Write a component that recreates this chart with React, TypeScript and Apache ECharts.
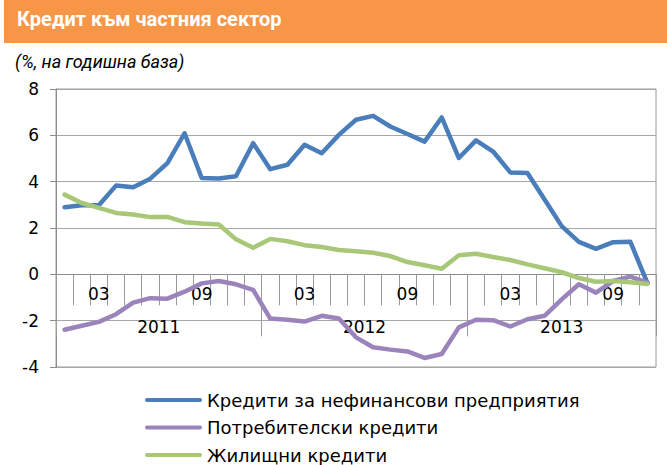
import React, { useEffect, useRef } from "react";
import * as echarts from "echarts";

const categories = [
  "2011-01", "2011-02", "2011-03", "2011-04", "2011-05", "2011-06", "2011-07", "2011-08", "2011-09", "2011-10", "2011-11", "2011-12",
  "2012-01", "2012-02", "2012-03", "2012-04", "2012-05", "2012-06", "2012-07", "2012-08", "2012-09", "2012-10", "2012-11", "2012-12",
  "2013-01", "2013-02", "2013-03", "2013-04", "2013-05", "2013-06", "2013-07", "2013-08", "2013-09", "2013-10", "2013-11",
];
const monthTickLabels = ["03", "09"];
const yearLabels = ["2011", "2012", "2013"];

const seriesNames = [
  "Кредити за нефинансови предприятия",
  "Потребителски кредити",
  "Жилищни кредити",
];

const corporate = [2.9, 2.98, 2.98, 3.83, 3.76, 4.13, 4.8, 6.09, 4.16, 4.14, 4.23, 5.66, 4.54, 4.73, 5.59, 5.23, 6.02, 6.67, 6.84, 6.38, 6.06, 5.73, 6.77, 5.02, 5.78, 5.3, 4.4, 4.37, 3.23, 2.08, 1.4, 1.1, 1.39, 1.41, -0.38];
const consumer = [-2.39, -2.22, -2.05, -1.72, -1.22, -1.03, -1.05, -0.75, -0.39, -0.29, -0.43, -0.67, -1.91, -1.96, -2.04, -1.79, -1.91, -2.72, -3.15, -3.25, -3.33, -3.61, -3.44, -2.29, -1.96, -1.98, -2.25, -1.94, -1.79, -1.08, -0.43, -0.79, -0.29, -0.1, -0.36];
const housing = [3.44, 3.08, 2.87, 2.65, 2.58, 2.47, 2.48, 2.25, 2.19, 2.15, 1.51, 1.15, 1.53, 1.43, 1.26, 1.18, 1.05, 1.0, 0.93, 0.79, 0.53, 0.39, 0.24, 0.82, 0.89, 0.75, 0.62, 0.43, 0.26, 0.09, -0.16, -0.32, -0.29, -0.34, -0.42];

const colors = ["#4a7ebb", "#9b84bb", "#a8c878"];

const title = "Кредит към частния сектор";
const subtitle = "(%, на годишна база)";

const AXIS_FONT = "'DejaVu Sans', Verdana, sans-serif";
const LEGEND_ICON = "path://M2,0 L55,0 A2,2 0 0 1 55,4 L2,4 A2,2 0 0 1 2,0 Z";

// grid geometry: y from -4 (bottom) to 8 (top); zero line offset from bottom
const GRID_TOP = 89;
const GRID_BOTTOM = 98;
const PLOT_H = 465 - GRID_TOP - GRID_BOTTOM;
const ZERO_OFFSET = -(PLOT_H * 4) / 12;

export default function App() {
  const ref = useRef<HTMLDivElement>(null);
  useEffect(() => {
    if (!ref.current) return;
    const chart = echarts.init(ref.current, undefined, { renderer: "svg" });
    const yearIdx = [5, 17, 29];
    const lineSeries = [corporate, consumer, housing].map((d, k) => ({
      name: seriesNames[k],
      type: "line",
      data: d,
      symbol: "none",
      showSymbol: false,
      xAxisIndex: 0,
      yAxisIndex: 0,
      lineStyle: { color: colors[k], width: 4.5, join: "round", cap: "round" },
      itemStyle: { color: colors[k] },
    }));
    chart.setOption({
      animation: false,
      backgroundColor: "#ffffff",
      graphic: [
        {
          type: "rect",
          shape: { x: 4, y: 0, width: 663, height: 43 },
          style: { fill: "#f79646" },
          silent: true,
        },
      ],
      title: [
        {
          text: title,
          left: 17,
          top: 9,
          padding: 0,
          textStyle: { color: "#ffffff", fontFamily: "Roboto, sans-serif", fontWeight: "bold", fontSize: 20 },
        },
        {
          text: subtitle,
          left: 15,
          top: 52,
          padding: 0,
          textStyle: { color: "#000000", fontFamily: "Roboto, sans-serif", fontStyle: "italic", fontWeight: "normal", fontSize: 18 },
        },
      ],
      legend: {
        orient: "vertical",
        left: 145,
        top: 391,
        padding: 0,
        itemWidth: 57,
        itemHeight: 18,
        itemGap: 9.5,
        icon: LEGEND_ICON,
        data: seriesNames,
        textStyle: { fontFamily: AXIS_FONT, fontSize: 18, color: "#000000" },
      },
      grid: {
        left: 56,
        right: 11,
        top: GRID_TOP,
        bottom: GRID_BOTTOM,
        show: true,
        borderColor: "#9a9a9a",
        borderWidth: 1,
        containLabel: false,
      },
      xAxis: [
        {
          type: "category",
          position: "bottom",
          offset: ZERO_OFFSET,
          data: categories,
          boundaryGap: true,
          axisLine: { show: true, onZero: false, lineStyle: { color: "#8c8c8c", width: 1 } },
          axisTick: { show: true, interval: 0, length: 31, lineStyle: { color: "#9a9a9a" } },
          axisLabel: {
            interval: (i: number) => i % 6 === 2,
            formatter: (v: string) => {
              const m = v.slice(5);
              return monthTickLabels.includes(m) ? m : "";
            },
            margin: 11,
            fontFamily: AXIS_FONT,
            fontSize: 17,
            color: "#000000",
          },
          splitLine: { show: false },
        },
        {
          type: "category",
          position: "bottom",
          offset: ZERO_OFFSET,
          data: categories,
          boundaryGap: true,
          axisLine: { show: false, onZero: false },
          axisTick: { show: true, interval: (i: number) => i % 12 === 0, length: 62, lineStyle: { color: "#9a9a9a" } },
          axisLabel: {
            interval: (i: number) => yearIdx.includes(i),
            formatter: (v: string, i: number) => {
              const y = v.slice(0, 4);
              if (!yearLabels.includes(y)) return "";
              return i === 29 ? "{c|" + y + "}" : "{s|" + y + "}";
            },
            margin: 44,
            fontFamily: AXIS_FONT,
            fontSize: 17,
            color: "#000000",
            rich: {
              s: { padding: [0, 0, 0, 17], fontFamily: AXIS_FONT, fontSize: 17, color: "#000000" },
              c: { fontFamily: AXIS_FONT, fontSize: 17, color: "#000000" },
            },
          },
          splitLine: { show: false },
        },
      ],
      yAxis: {
        type: "value",
        min: -4,
        max: 8,
        interval: 2,
        axisLine: { show: true, lineStyle: { color: "#8c8c8c" } },
        axisTick: { show: true, length: 6, lineStyle: { color: "#8c8c8c" } },
        axisLabel: { margin: 17, fontFamily: AXIS_FONT, fontSize: 17, color: "#000000" },
        splitLine: { show: true, lineStyle: { color: "#a6a6a6", width: 1 } },
      },
      series: lineSeries,
    });
    return () => chart.dispose();
  }, []);
  return (
    <div
      ref={ref}
      style={{ position: "fixed", left: 0, top: 0, width: 667, height: 465, background: "#fff" }}
    />
  );
}
